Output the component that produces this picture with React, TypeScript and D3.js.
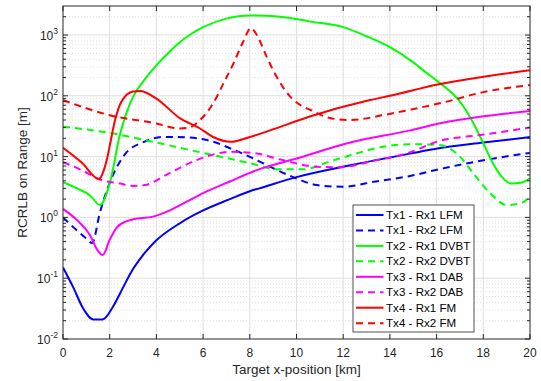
import { useEffect, useRef } from "react";
import * as d3 from "d3";

type Pt = [number, number];

// [x km, RCRLB m]
const tx1Rx1Lfm: Pt[] = [
  [0, 0.15], [0.43, 0.072], [0.86, 0.032], [1.3, 0.021], [1.7, 0.021], [2.14, 0.034],
  [2.57, 0.07], [2.94, 0.13], [3.5, 0.26], [4, 0.42], [5, 0.8], [6, 1.3], [7.15, 2.0],
  [8, 2.7], [8.4, 3.0], [10, 4.6], [12.3, 7.2], [14.86, 11.2], [16.1, 13.7], [18, 17], [20, 21],
];
const tx1Rx2Lfm: Pt[] = [
  [0, 1.0], [0.5, 0.66], [1.0, 0.45], [1.25, 0.38], [1.58, 1.2], [2, 3.7], [2.7, 11.5],
  [3.4, 17], [4.3, 21], [4.9, 21], [6.2, 18.6], [7.3, 13], [8.15, 9.3], [8.87, 6.8],
  [9.86, 4.6], [10.87, 3.4], [12, 3.2], [13.4, 3.9], [14.86, 4.8], [16.1, 6.2], [18, 8.7], [20, 11.5],
];
const tx2Rx1Dvbt: Pt[] = [
  [0, 3.8], [0.6, 3.0], [1.16, 2.3], [1.58, 1.6], [2, 3.6], [2.44, 23], [2.7, 50], [3, 96],
  [3.5, 186], [4, 316], [4.5, 500], [5, 760], [5.5, 1050], [6, 1350], [7, 1860], [8, 2090],
  [9.3, 2000], [10.6, 1660], [12, 1350], [13, 955], [14, 630], [15, 355], [15.5, 250],
  [16, 178], [16.5, 126], [17, 80], [17.5, 40], [18, 16.6], [18.4, 7.9], [18.8, 4.6],
  [19.2, 3.6], [19.6, 3.7], [20, 4.4],
];
const tx2Rx2Dvbt: Pt[] = [
  [0, 31], [2, 24.5], [4, 17], [6, 11.5], [8, 7.8], [9.15, 6.2], [10.3, 6.2], [11.5, 8.5],
  [12.3, 10.5], [13.7, 14.5], [14.86, 16], [16.1, 15.5], [17, 10], [17.57, 5.3], [18.3, 2.5],
  [19, 1.6], [19.6, 1.7], [20, 2.2],
];
const tx3Rx1Dab: Pt[] = [
  [0, 1.38], [0.59, 0.91], [1.16, 0.51], [1.45, 0.3], [1.7, 0.24], [2, 0.43], [2.3, 0.68],
  [2.7, 0.86], [3, 0.93], [3.85, 1.03], [4.6, 1.32], [5.4, 1.9], [6, 2.5], [7.15, 3.9],
  [8.3, 6.0], [10, 9.3], [12.3, 17], [14.86, 27], [16.1, 35], [18, 46], [20, 56],
];
const tx3Rx2Dab: Pt[] = [
  [0, 8.1], [0.8, 6], [1.58, 4.2], [2.44, 3.6], [3, 3.3], [3.5, 3.4], [4.5, 5.2], [5.7, 8.7],
  [7.2, 12], [8.15, 11.5], [9.43, 8.7], [10.87, 6.8], [11.86, 6.7], [13.4, 8.7], [14.7, 11.2],
  [16.1, 18], [18, 23], [20, 30],
];
const tx4Rx1Fm: Pt[] = [
  [0, 14], [0.8, 8], [1.54, 4.3], [1.75, 6], [1.87, 8.7], [2, 15], [2.23, 40], [2.5, 80],
  [3, 118], [3.3, 120], [4, 90], [5, 43], [5.87, 29], [6.43, 21], [7.2, 17.5], [8, 21],
  [8.87, 27], [10.6, 46], [13.15, 85], [14, 100], [16.1, 155], [18, 206], [20, 263],
];
const tx4Rx2Fm: Pt[] = [
  [0, 85], [2, 48], [4, 35], [5, 29], [5.4, 30], [5.87, 40], [6.44, 76], [6.87, 160],
  [7.3, 340], [7.72, 780], [8.05, 1300], [8.3, 1000], [8.72, 440], [9.15, 205], [9.72, 98],
  [10.3, 66], [10.58, 59], [11.43, 43], [12.3, 40], [13.7, 48], [14.86, 59], [16.3, 78],
  [18, 115], [20, 150],
];

const seriesNames = [
  "Tx1 - Rx1 LFM", "Tx1 - Rx2 LFM", "Tx2 - Rx1 DVBT", "Tx2 - Rx2 DVBT",
  "Tx3 - Rx1 DAB", "Tx3 - Rx2 DAB", "Tx4 - Rx1 FM", "Tx4 - Rx2 FM",
];
const seriesData = [tx1Rx1Lfm, tx1Rx2Lfm, tx2Rx1Dvbt, tx2Rx2Dvbt, tx3Rx1Dab, tx3Rx2Dab, tx4Rx1Fm, tx4Rx2Fm];
const seriesColors = ["#0000ff", "#0000ff", "#00ff00", "#00ff00", "#ff00ff", "#ff00ff", "#ff0000", "#ff0000"];

const xTicks = [0, 2, 4, 6, 8, 10, 12, 14, 16, 18, 20];
const yExponents = [-2, -1, 0, 1, 2, 3];

const W = 541;
const H = 381;
const FONT = "'Liberation Sans', Arial, Helvetica, sans-serif";
const AXIS = "#262626";

export default function App() {
  const svgRef = useRef<SVGSVGElement>(null);

  useEffect(() => {
    if (!svgRef.current) return;
    d3.select(svgRef.current).selectAll("*").remove();

    const margin = { top: 6, right: 11, bottom: 42, left: 63 };
    const svg = d3.select(svgRef.current).attr("width", W).attr("height", H);
    svg.append("rect").attr("width", W).attr("height", H).attr("fill", "#fff");

    const x = d3.scaleLinear().domain([0, 20]).range([margin.left, W - margin.right]);
    const y = d3.scaleLog().domain([0.01, 3000]).range([H - margin.bottom, margin.top]);
    const [x0, x1] = x.range();
    const [yb, yt] = y.range();

    // minor grid (dotted) for log axis
    const minors: number[] = [];
    yExponents.forEach((e) => {
      for (let k = 2; k <= 9; k++) {
        const v = k * Math.pow(10, e);
        if (v < 3000) minors.push(v);
      }
    });
    svg.append("g").selectAll("line").data(minors).join("line")
      .attr("x1", x0).attr("x2", x1)
      .attr("y1", (d) => y(d)).attr("y2", (d) => y(d))
      .attr("stroke", "#d4d4d4").attr("stroke-width", 0.7).attr("stroke-dasharray", "1,2");

    // major grid
    svg.append("g").selectAll("line").data(xTicks.slice(1, -1)).join("line")
      .attr("x1", (d) => x(d)).attr("x2", (d) => x(d)).attr("y1", yt).attr("y2", yb)
      .attr("stroke", "#dfdfdf").attr("stroke-width", 1);
    svg.append("g").selectAll("line").data(yExponents.slice(1)).join("line")
      .attr("x1", x0).attr("x2", x1)
      .attr("y1", (d) => y(Math.pow(10, d))).attr("y2", (d) => y(Math.pow(10, d)))
      .attr("stroke", "#dfdfdf").attr("stroke-width", 1);

    // curves
    svg.append("clipPath").attr("id", "plot-clip").append("rect")
      .attr("x", x0).attr("y", yt).attr("width", x1 - x0).attr("height", yb - yt);
    const line = d3.line<Pt>().x((d) => x(d[0])).y((d) => y(d[1])).curve(d3.curveMonotoneX);
    const curves = svg.append("g").attr("clip-path", "url(#plot-clip)");
    seriesData.forEach((data, i) => {
      curves.append("path").datum(data)
        .attr("fill", "none").attr("stroke", seriesColors[i]).attr("stroke-width", 2)
        .attr("stroke-dasharray", i % 2 === 1 ? "7,5" : null)
        .attr("d", line);
    });

    // box and ticks (inward, all four sides)
    const ax = svg.append("g").attr("stroke", AXIS).attr("stroke-width", 1);
    ax.append("rect").attr("x", x0).attr("y", yt).attr("width", x1 - x0).attr("height", yb - yt)
      .attr("fill", "none");
    xTicks.forEach((t) => {
      ax.append("line").attr("x1", x(t)).attr("x2", x(t)).attr("y1", yb).attr("y2", yb - 5);
      ax.append("line").attr("x1", x(t)).attr("x2", x(t)).attr("y1", yt).attr("y2", yt + 5);
    });
    yExponents.forEach((e) => {
      const yy = y(Math.pow(10, e));
      ax.append("line").attr("x1", x0).attr("x2", x0 + 5).attr("y1", yy).attr("y2", yy);
      ax.append("line").attr("x1", x1).attr("x2", x1 - 5).attr("y1", yy).attr("y2", yy);
    });
    minors.forEach((v) => {
      const yy = y(v);
      ax.append("line").attr("x1", x0).attr("x2", x0 + 3).attr("y1", yy).attr("y2", yy);
      ax.append("line").attr("x1", x1).attr("x2", x1 - 3).attr("y1", yy).attr("y2", yy);
    });

    // tick labels
    svg.append("g").selectAll("text").data(xTicks).join("text")
      .attr("x", (d) => x(d)).attr("y", yb + 18)
      .attr("text-anchor", "middle").attr("fill", AXIS)
      .style("font-family", FONT).style("font-size", "12px")
      .text((d) => String(d));

    const yLab = svg.append("g");
    yExponents.forEach((e) => {
      const t = yLab.append("text")
        .attr("x", x0 - 5).attr("y", y(Math.pow(10, e)) + 5)
        .attr("text-anchor", "end").attr("fill", AXIS)
        .style("font-family", FONT).style("font-size", "12px");
      t.append("tspan").text("10");
      t.append("tspan").attr("dy", -6).style("font-size", "8.5px").text(String(e));
    });

    // axis labels
    svg.append("text")
      .attr("x", (x0 + x1) / 2).attr("y", H - 7)
      .attr("text-anchor", "middle").attr("fill", AXIS)
      .style("font-family", FONT).style("font-size", "13.5px")
      .text("Target x-position [km]");
    svg.append("text")
      .attr("transform", `translate(27,${(yt + yb) / 2}) rotate(-90)`)
      .attr("text-anchor", "middle").attr("fill", AXIS)
      .style("font-family", FONT).style("font-size", "13.5px")
      .text("RCRLB on Range [m]");

    // legend
    const lg = svg.append("g").attr("transform", "translate(353,205)");
    lg.append("rect").attr("x", 0).attr("y", 0).attr("width", 121).attr("height", 127)
      .attr("fill", "#fff").attr("stroke", AXIS).attr("stroke-width", 0.8);
    seriesNames.forEach((name, i) => {
      const cy = 10 + i * 15.45;
      lg.append("line").attr("x1", 3).attr("x2", 30.5).attr("y1", cy).attr("y2", cy)
        .attr("stroke", seriesColors[i]).attr("stroke-width", 2)
        .attr("stroke-dasharray", i % 2 === 1 ? "7,5" : null);
      lg.append("text").attr("x", 33).attr("y", cy + 4).attr("fill", "#000")
        .style("font-family", FONT).style("font-size", "11.6px")
        .text(name);
    });
  }, []);

  return (
    <div style={{ position: "absolute", left: 0, top: 0, width: W, height: H, background: "#fff" }}>
      <svg ref={svgRef} style={{ display: "block" }}></svg>
    </div>
  );
}
